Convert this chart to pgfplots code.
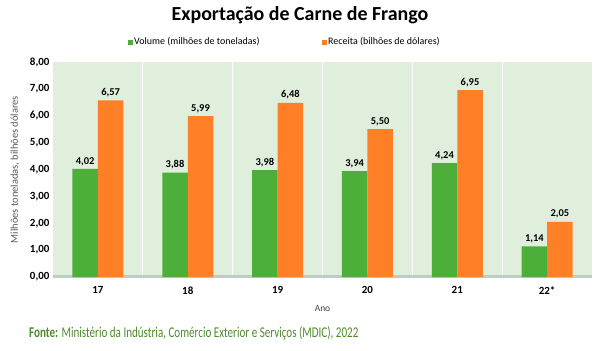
\documentclass[border=0pt]{standalone}
\usepackage{fontspec}
\setmainfont{Carlito}
\usepackage{pgfplots}
\pgfplotsset{compat=1.18}
\definecolor{gbar}{HTML}{4CAF3A}
\definecolor{obar}{HTML}{FF7F27}
\definecolor{bg}{HTML}{E0EFDB}
\definecolor{floor}{HTML}{BCCDC3}
\definecolor{fonte}{HTML}{4E8A2A}
\begin{document}
\begin{tikzpicture}[x=1bp,y=1bp]
\path[use as bounding box] (0,0) rectangle (600,350);
\node[font=\bfseries\fontsize{20}{24}\selectfont] at (300,335) {Exportação de Carne de Frango};
\node[font=\fontsize{10}{12}\selectfont, anchor=west] at (124,308) {\textcolor{gbar}{\rule{5bp}{5bp}}\,Volume (milhões de toneladas)};
\node[font=\fontsize{10}{12}\selectfont, anchor=west] at (318,308) {\textcolor{obar}{\rule{5bp}{5bp}}\,Receita (bilhões de dólares)};
\begin{axis}[
  at={(53bp,73bp)}, anchor=south west,
  scale only axis, width=539bp, height=215bp,
  xmin=0, xmax=6, ymin=0, ymax=8,
  axis line style={draw=none},
  clip=false,
  ybar, bar width=25.5bp,
  ytick={0,1,2,3,4,5,6,7,8},
  yticklabel style={font=\bfseries\fontsize{11}{13}\selectfont, /pgf/number format/fixed, /pgf/number format/fixed zerofill, /pgf/number format/precision=2, /pgf/number format/use comma, /pgf/number format/assume math mode=true},
  xtick={0.5,1.5,2.5,3.5,4.5,5.5},
  xticklabels={17,18,19,20,21,22*},
  xticklabel style={font=\bfseries\fontsize{11}{13}\selectfont, yshift=-2bp},
  tick style={draw=none},
  xlabel={Ano}, xlabel style={font=\fontsize{9.5}{11}\selectfont, text=black!75, yshift=-4bp},
  ylabel={Milhões toneladas, bilhões dólares}, ylabel style={font=\fontsize{10.5}{13}\selectfont, text=black!65, yshift=4bp},
  nodes near coords,
  every node near coord/.append style={font=\bfseries\fontsize{10.5}{12}\selectfont, text=black, /pgf/number format/fixed, /pgf/number format/fixed zerofill, /pgf/number format/precision=2, /pgf/number format/use comma, /pgf/number format/assume math mode=true},
]
\fill[bg] (axis cs:0,0) rectangle (axis cs:6,8);
\pgfplotsinvokeforeach{1,2,3,4,5}{\draw[white, line width=1.2bp] (axis cs:#1,0) -- (axis cs:#1,8);}
\draw[floor, line width=3bp] (axis cs:0,0.03) -- (axis cs:6,0.03);
\addplot[fill=gbar, draw=none, bar shift=-12.75bp] coordinates {(0.5,4.02) (1.5,3.88) (2.5,3.98) (3.5,3.94) (4.5,4.24) (5.5,1.14)};
\addplot[fill=obar, draw=none, bar shift=12.75bp] coordinates {(0.5,6.57) (1.5,5.99) (2.5,6.48) (3.5,5.50) (4.5,6.95) (5.5,2.05)};
\end{axis}
\node[anchor=west, text=fonte, inner sep=0pt] at (29,17) {\scalebox{0.74}[1]{\fontsize{15}{17}\selectfont\textbf{Fonte:} Ministério da Indústria, Comércio Exterior e Serviços (MDIC), 2022}};
\end{tikzpicture}
\end{document}
